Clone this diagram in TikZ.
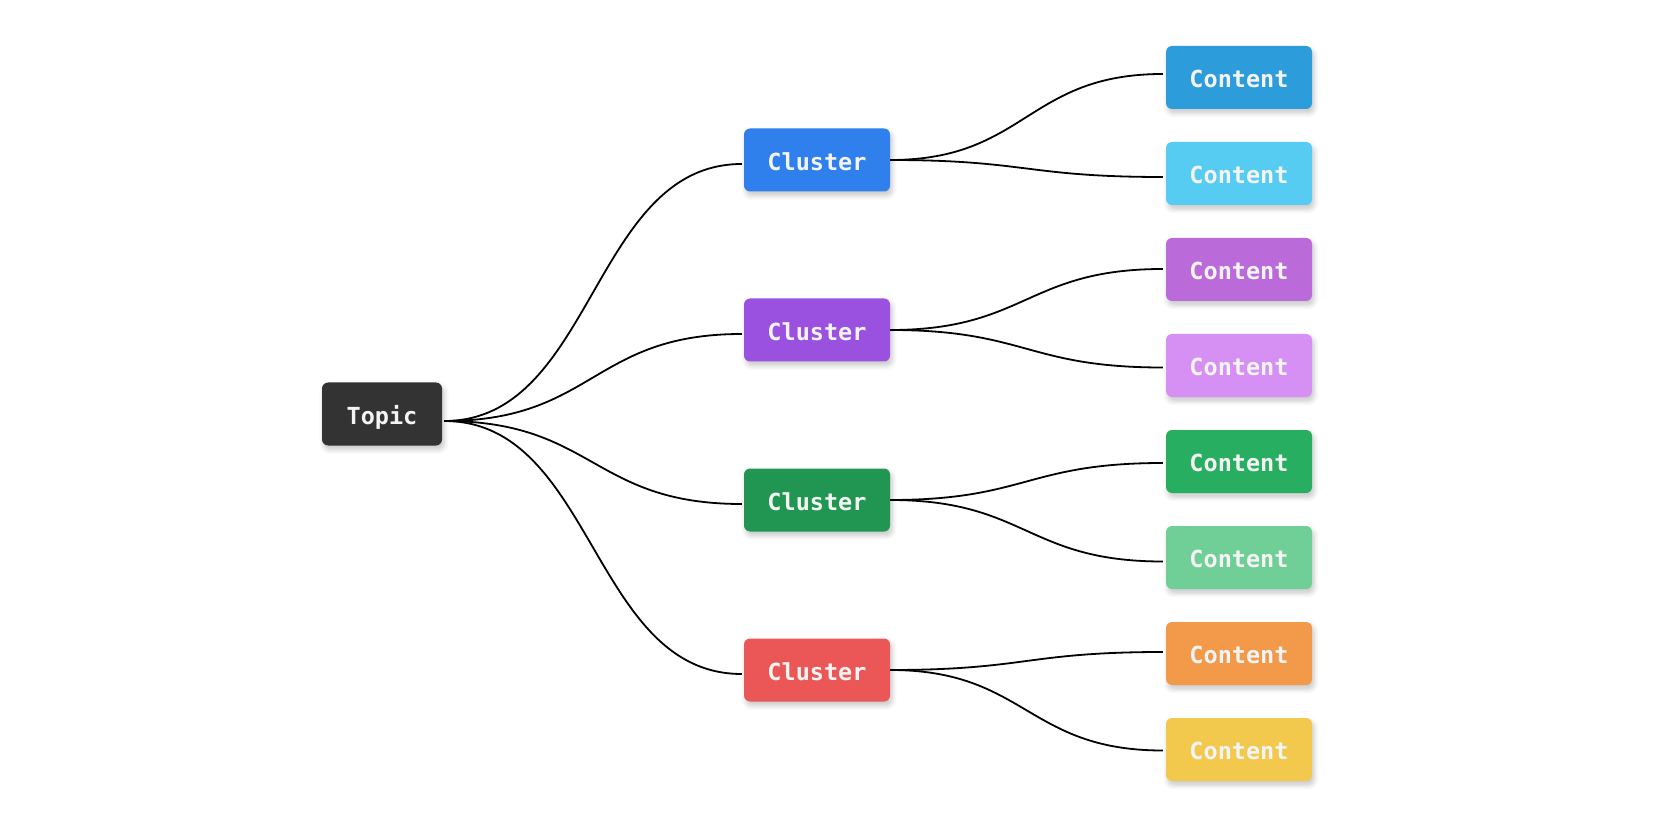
\documentclass[tikz,border=0pt]{standalone}
\usepackage{fontspec}
\setmonofont{DejaVu Sans Mono}
\usetikzlibrary{shadows.blur}

\definecolor{topicc}{HTML}{333333}
\definecolor{cla}{HTML}{2F80ED}
\definecolor{clb}{HTML}{9B51E0}
\definecolor{clc}{HTML}{219653}
\definecolor{cld}{HTML}{EB5757}
\definecolor{coa}{HTML}{2D9CDB}
\definecolor{cob}{HTML}{56CCF2}
\definecolor{coc}{HTML}{BB6BD9}
\definecolor{cod}{HTML}{D68FF2}
\definecolor{coe}{HTML}{27AE60}
\definecolor{cof}{HTML}{6FCF97}
\definecolor{cog}{HTML}{F2994A}
\definecolor{coh}{HTML}{F2C94C}
\definecolor{txt}{HTML}{F4F4F4}

\tikzset{
  box/.style={rounded corners=6pt, inner sep=0pt, text=txt,
    font=\ttfamily\bfseries\fontsize{23.5}{28}\selectfont,
    text height=20.5pt, text depth=0pt,
    minimum height=63pt,
    blur shadow={shadow blur steps=6, shadow xshift=2pt, shadow yshift=-4pt,
                 shadow opacity=22, shadow blur radius=5pt}},
  topicbox/.style={box, fill=topicc, minimum width=120pt},
  clusterbox/.style={box, minimum width=146pt},
  contentbox/.style={box, minimum width=146pt},
  link/.style={line width=1.8pt, black},
}

\begin{document}
\begin{tikzpicture}[x=1pt, y=-1pt]
  \useasboundingbox (0,0) rectangle (1674,826);

  % root
  \node[topicbox] (topic) at (382,414) {Topic};

  % middle level
  \node[clusterbox, fill=cla] (c1) at (817,160) {Cluster};
  \node[clusterbox, fill=clb] (c2) at (817,330) {Cluster};
  \node[clusterbox, fill=clc] (c3) at (817,500) {Cluster};
  \node[clusterbox, fill=cld] (c4) at (817,670) {Cluster};

  % leaves
  \node[contentbox, fill=coa] (k1) at (1239,77.5)  {Content};
  \node[contentbox, fill=cob] (k2) at (1239,173.5) {Content};
  \node[contentbox, fill=coc] (k3) at (1239,269.5) {Content};
  \node[contentbox, fill=cod] (k4) at (1239,365.5) {Content};
  \node[contentbox, fill=coe] (k5) at (1239,461.5) {Content};
  \node[contentbox, fill=cof] (k6) at (1239,557.5) {Content};
  \node[contentbox, fill=cog] (k7) at (1239,653.5) {Content};
  \node[contentbox, fill=coh] (k8) at (1239,749.5) {Content};

  % topic -> clusters (horizontal S-curves)
  \foreach \c in {c1,c2,c3,c4}{
    \draw[link] ([xshift=2pt,yshift=-7pt]topic.east)
      .. controls +(150,0) and +(-150,0) .. ([xshift=-2pt,yshift=-4pt]\c.west);
  }

  % clusters -> contents
  \foreach \c/\k/\dy in {c1/k1/3.5, c1/k2/-3.5, c2/k3/0.5, c2/k4/-2,
                          c3/k5/-1.5, c3/k6/-4, c4/k7/1.5, c4/k8/-1}{
    \draw[link] (\c.east)
      .. controls +(136,0) and +(-136,0) .. ([xshift=-3pt,yshift=\dy pt]\k.west);
  }
\end{tikzpicture}
\end{document}
